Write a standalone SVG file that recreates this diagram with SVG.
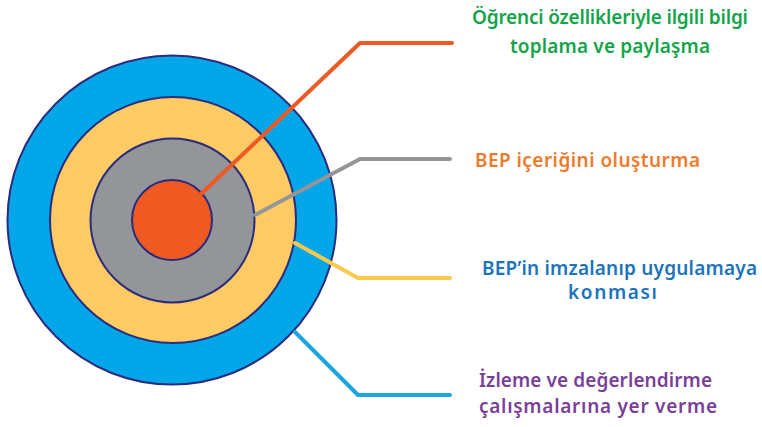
<svg xmlns="http://www.w3.org/2000/svg" width="762" height="427" viewBox="0 0 762 427">
<style>
.ring{stroke:#2B2C7C;stroke-width:2}
.lead{fill:none;stroke-width:4;stroke-linecap:round;stroke-linejoin:round}
.lbl{font-family:"Noto Sans","Open Sans",sans-serif;font-size:19px;font-weight:600}
</style>
<rect width="762" height="427" fill="#ffffff"/>
<g id="target">
<circle id="ring-outer" class="ring" cx="172" cy="220" r="164.5" fill="#03A6E8"/>
<circle id="ring-yellow" class="ring" cx="173" cy="220" r="123" fill="#FDCA63"/>
<circle id="ring-gray" class="ring" cx="172.5" cy="220.5" r="82" fill="#939598"/>
<circle id="ring-center" class="ring" cx="172" cy="220" r="40" fill="#EF5A23"/>
</g>
<g id="connectors">
<polyline class="lead" stroke="#EE5A24" points="202,193 360,43 452,43"/>
<polyline class="lead" stroke="#939598" points="255,215 360,159 450,159"/>
<polyline class="lead" stroke="#F8C94C" points="295,243 358,278 450,278"/>
<polyline class="lead" stroke="#1BA6E2" points="295,332 358,395 450,395"/>
</g>
<g id="label-1">
<text class="lbl" fill="#14A44A" x="472" y="24" textLength="276">Öğrenci özellikleriyle ilgili bilgi</text>
<text class="lbl" fill="#14A44A" x="510" y="53" textLength="200">toplama ve paylaşma</text>
</g>
<g id="label-2">
<text class="lbl" fill="#EE7B2C" x="475" y="167" textLength="225">BEP içeriğini oluşturma</text>
</g>
<g id="label-3">
<text class="lbl" fill="#1B74BC" x="482" y="275" textLength="275">BEP’in imzalanıp uygulamaya</text>
<text class="lbl" fill="#1B74BC" x="568" y="299" textLength="89">konması</text>
</g>
<g id="label-4">
<text class="lbl" fill="#7A3F98" x="479" y="387" textLength="233">İzleme ve değerlendirme</text>
<text class="lbl" fill="#7A3F98" x="479" y="413" textLength="238">çalışmalarına yer verme</text>
</g>
</svg>
